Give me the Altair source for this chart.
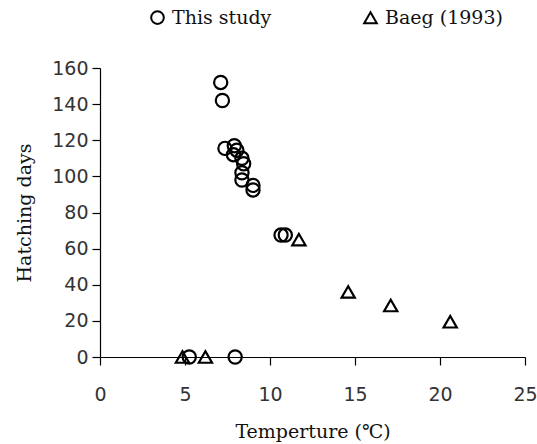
import altair as alt
import pandas as pd

study_x = [7.1, 7.2, 7.35, 7.9, 8.05, 7.85, 8.35, 8.45, 8.35, 8.35, 9.0, 9.0, 10.65, 10.9, 5.25, 7.95]
study_y = [152, 142, 115.5, 117, 114.5, 112, 110, 107, 102, 98, 95, 92.5, 67.5, 67.5, 0, 0]
baeg_x = [4.85, 6.2, 11.7, 14.6, 17.1, 20.6]
baeg_y = [0, 0, 65, 36, 28.5, 19.5]
series = ["This study", "Baeg (1993)"]

df = pd.concat([
    pd.DataFrame({"t": study_x, "d": study_y, "s": series[0]}),
    pd.DataFrame({"t": baeg_x, "d": baeg_y, "s": series[1]}),
])

chart = alt.Chart(df).mark_point(filled=False, strokeWidth=2.2, size=175, opacity=1).encode(
    x=alt.X("t:Q", scale=alt.Scale(domain=[0, 25], nice=False),
            axis=alt.Axis(title="Temperture (\u2103)", values=[0, 5, 10, 15, 20, 25], grid=False,
                          tickSize=8, labelPadding=20, titlePadding=18, labelFlush=False)),
    y=alt.Y("d:Q", scale=alt.Scale(domain=[0, 160], nice=False),
            axis=alt.Axis(title="Hatching days", values=list(range(0, 161, 20)), grid=False,
                          tickSize=8, labelPadding=4, titlePadding=17)),
    shape=alt.Shape("s:N", scale=alt.Scale(domain=series, range=["circle", "triangle-up"]),
                    legend=alt.Legend(title=None, orient="none", direction="horizontal",
                                      legendX=48, legendY=-60, columnPadding=88,
                                      symbolStrokeWidth=2, symbolSize=160, symbolStrokeColor="black",
                                      labelFont="DejaVu Serif", labelFontSize=19, labelColor="#111",
                                      labelLimit=300, padding=0, symbolType="circle", labelOffset=5)),
    color=alt.value("black"),
).properties(
    width=425, height=289,
    autosize=alt.AutoSizeParams(type="none"),
    padding={"left": 100, "top": 68, "right": 12, "bottom": 87},
).configure_view(stroke=None).configure_axis(
    domainColor="black", tickColor="black", domainWidth=1.2, tickWidth=1.2,
    labelFont="DejaVu Sans", labelFontSize=19, labelColor="#333",
    titleFont="DejaVu Serif", titleFontSize=19, titleFontWeight="normal", titleColor="#111",
)

chart.save("out.html", embed_options={"renderer": "svg", "actions": False})
